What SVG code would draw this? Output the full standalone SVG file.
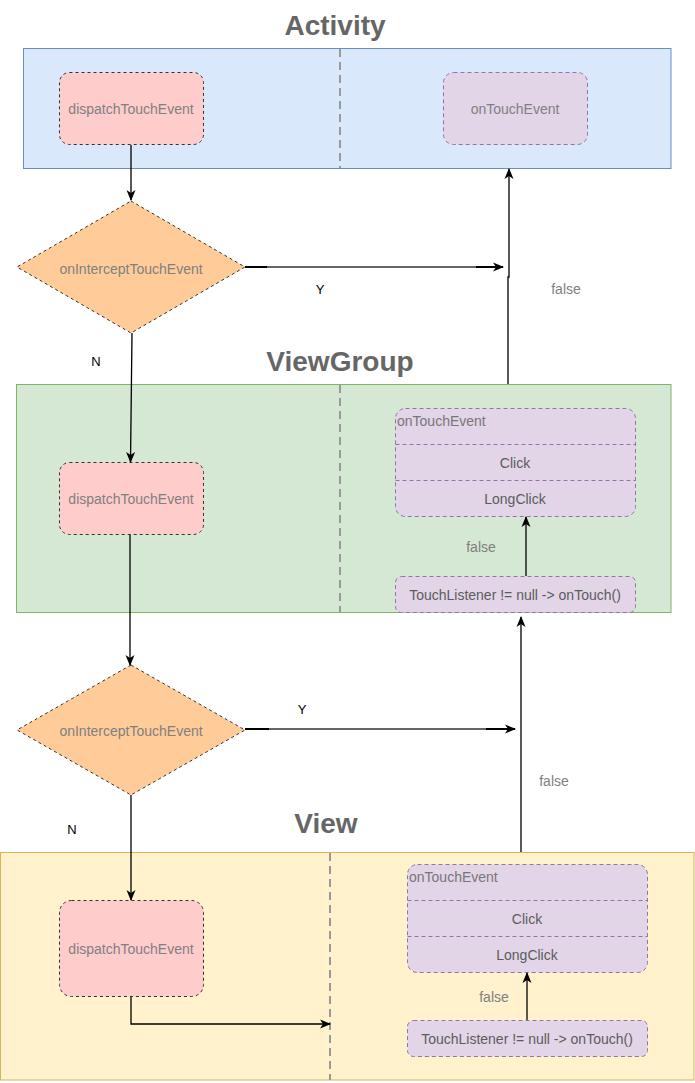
<svg xmlns="http://www.w3.org/2000/svg" width="695" height="1083" viewBox="0 0 695 1083">
<defs>
<marker id="arr" markerWidth="12" markerHeight="12" refX="10" refY="6" orient="auto" markerUnits="userSpaceOnUse">
<path d="M0,1.5 L11,6 L0,10.5 L3,6 z" fill="#000"/>
</marker>
<style>
text{font-family:"Liberation Sans",Arial,sans-serif;}
.title{font-size:28px;font-weight:bold;fill:#666;text-anchor:middle;}
.lbl{font-size:14px;fill:#808080;text-anchor:middle;}
.dk{font-size:14px;fill:#5c5c5c;text-anchor:middle;}
.hdr{font-size:14px;fill:#777;}
.yn{font-size:13px;fill:#000;text-anchor:middle;}
.div{stroke:#999;stroke-width:2;stroke-dasharray:8 5;fill:none;}
.disp{fill:#ffcccc;stroke:#333;stroke-dasharray:3 3;}
.pur{fill:#e1d5e7;stroke:#9673a6;stroke-dasharray:4 3;}
.dia{fill:#ffcc99;stroke:#333;stroke-dasharray:3 3;}
.con{stroke:#000;stroke-width:1.3;fill:none;}
.gray{stroke:#666;stroke-width:2;fill:none;}
.blk{stroke:#000;stroke-width:2;fill:none;}
</style>
</defs>
<rect width="695" height="1083" fill="#fff"/>

<g id="activity">
<text class="title" x="335" y="35">Activity</text>
<rect x="23.5" y="48.5" width="647.5" height="120" fill="#dae8fc" stroke="#6c8ebf"/>
<line class="div" x1="340" y1="49" x2="340" y2="168"/>
</g>
<g id="act-dispatch">
<rect class="disp" x="59.5" y="72.5" width="144" height="72" rx="10"/>
<text class="lbl" x="131" y="114">dispatchTouchEvent</text>
</g>
<g id="act-ontouch">
<rect class="pur" x="443.5" y="72.5" width="144" height="72" rx="10"/>
<text class="lbl" x="515" y="114">onTouchEvent</text>
</g>
<g id="intercept1">
<polygon class="dia" points="131,201 245,267 131,333 17,267"/>
<text class="lbl" x="131" y="274">onInterceptTouchEvent</text>
</g>

<g id="viewgroup">
<text class="title" x="340" y="371">ViewGroup</text>
<rect x="16.5" y="384.5" width="654.5" height="228" fill="#d5e8d4" stroke="#82b366"/>
<line class="div" x1="340" y1="385" x2="340" y2="612"/>
</g>
<g id="vg-dispatch">
<rect class="disp" x="59.5" y="462.5" width="144" height="72" rx="10"/>
<text class="lbl" x="131" y="504">dispatchTouchEvent</text>
</g>
<g id="vg-ontouch">
<rect class="pur" x="395.5" y="408.5" width="240" height="108" rx="10"/>
<line class="pur" x1="395.5" y1="444.5" x2="635.5" y2="444.5"/>
<line class="pur" x1="395.5" y1="480.5" x2="635.5" y2="480.5"/>
<text class="hdr" x="397" y="426">onTouchEvent</text>
<text class="dk" x="515" y="468">Click</text>
<text class="dk" x="515" y="504">LongClick</text>
</g>
<g id="vg-listener">
<rect class="pur" x="395.5" y="576.5" width="240" height="36" rx="6"/>
<text class="dk" x="515" y="600">TouchListener != null -&gt; onTouch()</text>
</g>
<g id="intercept2">
<polygon class="dia" points="131,665 245,730 131,795 17,730"/>
<text class="lbl" x="131" y="736">onInterceptTouchEvent</text>
</g>

<g id="view">
<text class="title" x="326" y="833">View</text>
<rect x="0.5" y="852.5" width="693.5" height="227.5" fill="#fff2cc" stroke="#d6b656"/>
<line class="div" x1="330" y1="853" x2="330" y2="1080"/>
</g>
<g id="v-dispatch">
<rect class="disp" x="59.5" y="900.5" width="144" height="96" rx="12"/>
<text class="lbl" x="131" y="954">dispatchTouchEvent</text>
</g>
<g id="v-ontouch">
<rect class="pur" x="407.5" y="864.5" width="240" height="108" rx="10"/>
<line class="pur" x1="407.5" y1="900.5" x2="647.5" y2="900.5"/>
<line class="pur" x1="407.5" y1="936.5" x2="647.5" y2="936.5"/>
<text class="hdr" x="409" y="882">onTouchEvent</text>
<text class="dk" x="527" y="924">Click</text>
<text class="dk" x="527" y="960">LongClick</text>
</g>
<g id="v-listener">
<rect class="pur" x="407.5" y="1020.5" width="240" height="36" rx="6"/>
<text class="dk" x="527" y="1044">TouchListener != null -&gt; onTouch()</text>
</g>

<g id="connectors">
<path class="con" d="M131,145 V200" marker-end="url(#arr)"/>
<line class="gray" x1="266" y1="267" x2="478" y2="267"/>
<line class="blk" x1="245" y1="267" x2="267" y2="267"/>
<path class="blk" d="M476,267 H503" marker-end="url(#arr)"/>
<path class="con" d="M508,384 V277 H509 V169" marker-end="url(#arr)"/>
<path class="con" d="M132,333 L130.5,462" marker-end="url(#arr)"/>
<path class="con" d="M526,576 V517" marker-end="url(#arr)"/>
<path class="con" d="M130,535 V665" marker-end="url(#arr)"/>
<line class="gray" x1="268" y1="729" x2="488" y2="729"/>
<line class="blk" x1="245" y1="729" x2="269" y2="729"/>
<path class="blk" d="M486,729 H515" marker-end="url(#arr)"/>
<path class="con" d="M521,852 V617" marker-end="url(#arr)"/>
<path class="con" d="M131,795 V900" marker-end="url(#arr)"/>
<path class="con" d="M131,997 V1024 H330" marker-end="url(#arr)"/>
<path class="con" d="M527,1020 V973" marker-end="url(#arr)"/>
<text class="yn" x="320" y="294">Y</text>
<text class="lbl" x="566" y="294">false</text>
<text class="yn" x="96" y="366">N</text>
<text class="lbl" x="481" y="552">false</text>
<text class="yn" x="302" y="714">Y</text>
<text class="lbl" x="554" y="786">false</text>
<text class="yn" x="72" y="834">N</text>
<text class="lbl" x="494" y="1002">false</text>
</g>
</svg>
